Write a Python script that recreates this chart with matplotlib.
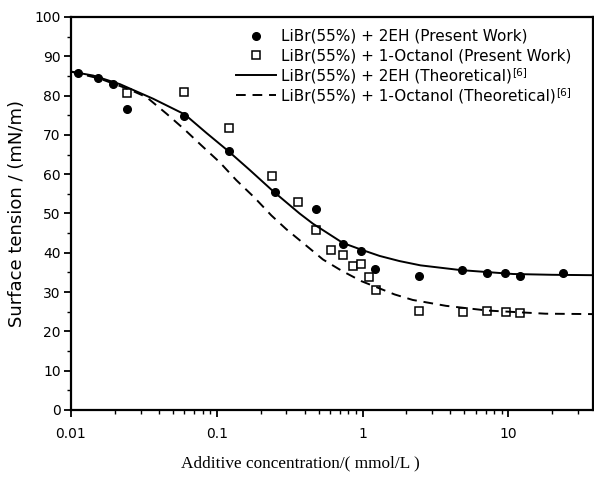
import matplotlib
matplotlib.use('Agg')
import matplotlib.pyplot as plt
from matplotlib.ticker import MultipleLocator, FixedLocator, NullFormatter

plt.rcParams['font.family'] = ['DejaVu Sans']

# measured: LiBr(55%) + 2EH
conc_2eh = [0.0112, 0.0154, 0.0195, 0.0244, 0.0597, 0.121, 0.249, 0.482, 0.733,
            0.98, 1.22, 2.43, 4.82, 7.10, 9.53, 12.0, 23.9]
st_2eh = [85.8, 84.6, 82.9, 76.5, 74.9, 65.9, 55.5, 51.1, 42.2,
          40.5, 35.8, 34.2, 35.5, 34.8, 34.8, 34.1, 34.8]

# measured: LiBr(55%) + 1-Octanol
conc_oct = [0.0241, 0.0597, 0.121, 0.240, 0.360, 0.482, 0.61, 0.733, 0.86,
            0.98, 1.10, 1.23, 2.45, 4.87, 7.2, 9.6, 12.1]
st_oct = [80.7, 81.0, 71.7, 59.6, 52.8, 45.8, 40.7, 39.4, 36.7,
          37.2, 33.9, 30.5, 25.2, 24.9, 25.2, 25.0, 24.8]

# theoretical curves (ref. [6])
conc_th_2eh = [0.01, 0.0142, 0.0217, 0.0366, 0.0604, 0.0849, 0.119, 0.168, 0.243,
               0.370, 0.457, 0.733, 0.98, 1.31, 1.79, 2.5, 4.7, 10.8, 20.0, 38.0]
st_th_2eh = [86.1, 85.1, 82.9, 79.2, 75.2, 70.5, 66.0, 61.1, 55.7,
             50.0, 47.4, 42.5, 40.8, 39.2, 37.9, 36.8, 35.6, 34.6, 34.4, 34.3]

conc_th_oct = [0.01, 0.0158, 0.025, 0.033, 0.0452, 0.0604, 0.0786, 0.105, 0.136,
               0.182, 0.237, 0.30, 0.434, 0.535, 0.714, 0.98, 1.66, 2.21, 3.74,
               7.2, 18.0, 38.0]
st_th_oct = [86.1, 84.3, 81.6, 79.6, 75.4, 71.3, 67.3, 63.0, 58.5,
             54.0, 49.5, 46.0, 41.1, 38.3, 35.5, 32.8, 29.4, 28.0, 26.5,
             25.3, 24.5, 24.4]

labels = ['LiBr(55%) + 2EH (Present Work)',
          'LiBr(55%) + 1-Octanol (Present Work)',
          'LiBr(55%) + 2EH (Theoretical)',
          'LiBr(55%) + 1-Octanol (Theoretical)']
ref_mark = '[6]'

fig = plt.figure(figsize=(5.94, 4.91), dpi=100)
ax = fig.add_axes([0.1195, 0.165, 0.8785, 0.8004])

ax.plot(conc_2eh, st_2eh, 'o', color='black', markersize=5.5, label=labels[0])
ax.plot(conc_oct, st_oct, 's', markerfacecolor='white', markeredgecolor='black',
        markeredgewidth=1.1, markersize=5.5, label=labels[1])
ax.plot(conc_th_2eh, st_th_2eh, '-', color='black', lw=1.4, label=labels[2])
ax.plot(conc_th_oct, st_th_oct, '--', color='black', lw=1.4, dashes=(5, 3.5),
        label=labels[3])

ax.set_xscale('log')
ax.set_xlim(0.01, 38)
ax.set_ylim(0, 100)
ax.yaxis.set_major_locator(MultipleLocator(10))
ax.yaxis.set_minor_locator(MultipleLocator(5))
ax.xaxis.set_major_locator(FixedLocator([0.01, 0.1, 1, 10]))
ax.xaxis.set_minor_formatter(NullFormatter())
ax.set_xticklabels(['0.01', '0.1', '1', '10'])

ax.tick_params(which='major', direction='out', length=5, width=1.3, labelsize=10)
ax.tick_params(axis='y', which='major', pad=2.5)
ax.tick_params(axis='x', which='major', pad=7)
ax.tick_params(which='minor', direction='out', length=3, width=1.0)
for sp in ax.spines.values():
    sp.set_linewidth(1.6)

ax.set_ylabel('Surface tension / (mN/m)', fontsize=13, labelpad=6)
fig.text(0.505, 0.057, 'Additive concentration/( mmol/L )', ha='center', va='center',
         fontsize=12.4, family='Liberation Serif')

leg = ax.legend(loc='upper left', bbox_to_anchor=(0.305, 0.985), frameon=False,
                fontsize=11, handlelength=2.6, handletextpad=0.3, labelspacing=0.31,
                borderaxespad=0)

# superscript reference mark after the theoretical entries
fig.canvas.draw()
inv = fig.transFigure.inverted()
for t in leg.get_texts()[2:]:
    bb = t.get_window_extent()
    x1, y1 = inv.transform((bb.x1, bb.y1))
    fig.text(x1 + 0.002, y1 + 0.002, ref_mark, fontsize=7.5, ha='left', va='top')

plt.savefig('out.png', dpi=100)
